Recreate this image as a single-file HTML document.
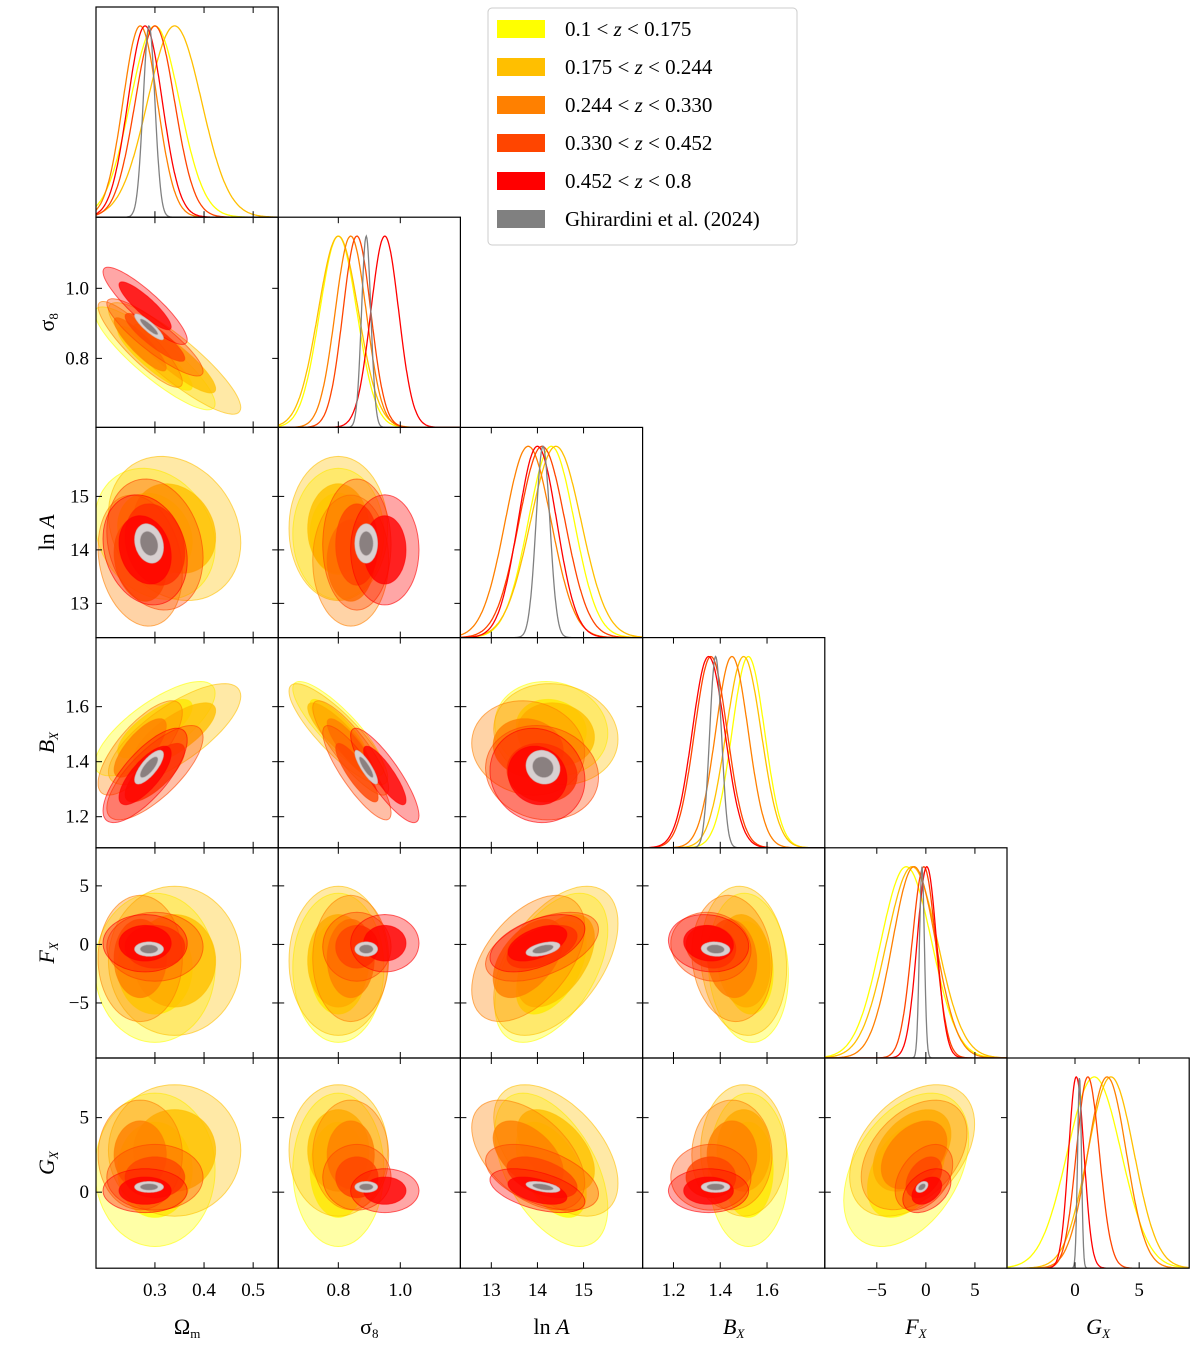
<!DOCTYPE html>
<html><head><meta charset="utf-8"><style>
html,body{margin:0;padding:0;background:#fff;}
svg text{font-family:"Liberation Serif",serif;}
</style></head><body>
<svg id="chart" width="1200" height="1349" viewBox="0 0 1200 1349" xmlns="http://www.w3.org/2000/svg"></svg>
<script>
// ---- data ----
const seriesLabels = ['0.1 < z < 0.175','0.175 < z < 0.244','0.244 < z < 0.330','0.330 < z < 0.452','0.452 < z < 0.8','Ghirardini et al. (2024)'];
const paramNames = ['Om','s8','lnA','BX','FX','GX'];
const meanOm  = [0.30, 0.34, 0.27, 0.30, 0.28, 0.288];
const sdOm    = [0.05, 0.055,0.035,0.04, 0.035,0.012];
const meanS8  = [0.80, 0.80, 0.84, 0.86, 0.95, 0.89];
const sdS8    = [0.06, 0.065,0.05, 0.045,0.045,0.015];
const meanLnA = [14.3, 14.4, 13.8, 14.1, 14.0, 14.12];
const sdLnA   = [0.5,  0.55, 0.5,  0.5,  0.42, 0.15];
const meanBX  = [1.52, 1.50, 1.45, 1.36, 1.35, 1.38];
const sdBX    = [0.07, 0.075,0.07, 0.07, 0.07, 0.025];
const meanFX  = [-2.0, -1.4, -1.2, -0.2, 0.1, -0.4];
const sdFX    = [2.6,  2.6,  2.2,  1.2,  1.0,  0.25];
const meanGX  = [1.5,  2.8,  2.5,  1.0,  0.1,  0.35];
const sdGX    = [2.1,  1.8,  1.5,  0.9,  0.6,  0.15];
const corrRows = [
 [1, -0.88, -0.2, 0.75, 0, 0],
 [-0.88, 1, 0, -0.85, 0, 0],
 [-0.2, 0, 1, -0.1, 0.5, -0.5],
 [0.75, -0.85, -0.1, 1, -0.1, 0],
 [0, 0, 0.5, -0.1, 1, 0.4],
 [0, 0, -0.5, 0, 0.4, 1]
];
const ticksOm=[0.3,0.4,0.5], ticksS8=[0.8,1.0], ticksLnA=[13,14,15], ticksBX=[1.2,1.4,1.6], ticksFX=[-5,0,5], ticksGX=[0,5];
const tickLabOm=['0.3','0.4','0.5'], tickLabS8=['0.8','1.0'], tickLabLnA=['13','14','15'], tickLabBX=['1.2','1.4','1.6'], tickLabFX=['−5','0','5'], tickLabGX=['0','5'];

// ---- styles / geometry ----
const means=[meanOm,meanS8,meanLnA,meanBX,meanFX,meanGX];
const sds=[sdOm,sdS8,sdLnA,sdBX,sdFX,sdGX];
const ticks=[ticksOm,ticksS8,ticksLnA,ticksBX,ticksFX,ticksGX];
const tickLabs=[tickLabOm,tickLabS8,tickLabLnA,tickLabBX,tickLabFX,tickLabGX];
const xr=[[0.18,0.551],[0.606,1.194],[12.33,16.28],[1.068,1.847],[-10.3,8.27],[-5.3,8.9]];
const yr=[[0.18,0.551],[0.603,1.203],[12.36,16.29],[1.087,1.851],[-9.7,8.25],[-5.1,9.0]];
const colors=['#ffff00','#ffbf00','#ff8000','#ff4500','#ff0000','#808080'];
const axTitles=['Ω<tspan font-size="13" dy="4">m</tspan>','σ<tspan font-size="13" dy="4">8</tspan>','ln <tspan font-style="italic">A</tspan>','<tspan font-style="italic">B</tspan><tspan font-size="13" dy="4" font-style="italic">X</tspan>','<tspan font-style="italic">F</tspan><tspan font-size="13" dy="4" font-style="italic">X</tspan>','<tspan font-style="italic">G</tspan><tspan font-size="13" dy="4" font-style="italic">X</tspan>'];
const L0=96, T0=7, W=182.2, H=210.2;
const svg=document.getElementById('chart');
const NS='http://www.w3.org/2000/svg';
function mk(tag,attrs,parent){const e=document.createElementNS(NS,tag);for(const k in attrs)e.setAttribute(k,attrs[k]);(parent||svg).appendChild(e);return e;}
function sx(p,v,j){const r=xr[p];return L0+j*W+(v-r[0])/(r[1]-r[0])*W;}
function sy(p,v,i){const r=yr[p];return T0+(i+1)*H-(v-r[0])/(r[1]-r[0])*H;}

let defs=mk('defs',{});
for(let i=0;i<6;i++){
 for(let j=0;j<=i;j++){
  const cp=mk('clipPath',{id:'c'+i+'_'+j},defs);
  mk('rect',{x:L0+j*W,y:T0+i*H,width:W,height:H},cp);
  const g=mk('g',{'clip-path':'url(#c'+i+'_'+j+')'});
  
  
  if(i===j){
   for(let s=0;s<6;s++){
    const m=means[j][s], sd=sds[j][s];
    let d='';
    for(let k=0;k<=300;k++){
     const v=xr[j][0]+(xr[j][1]-xr[j][0])*k/300;
     const h=Math.exp(-0.5*((v-m)/sd)**2);
     const X=sx(j,v,j), Y=T0+(i+1)*H-h*H*0.91;
     d+=(k?'L':'M')+X.toFixed(1)+' '+Y.toFixed(1);
    }
    const p=mk('path',{d:d,fill:'none',stroke:colors[s],'stroke-width':1.3},g);
    
    
   }
  } else {
   const r=corrRows[i][j];
   for(let s=0;s<6;s++){
    const mx=means[j][s], my=means[i][s], ax=sds[j][s], ay=sds[i][s];
    [2.45,1.52].forEach((kk,li)=>{
     let d='';
     for(let k=0;k<=72;k++){
      const t=k/72*2*Math.PI;
      const vx=mx+kk*ax*Math.cos(t);
      const vy=my+kk*ay*(r*Math.cos(t)+Math.sqrt(1-r*r)*Math.sin(t));
      d+=(k?'L':'M')+sx(j,vx,j).toFixed(1)+' '+sy(i,vy,i).toFixed(1);
     }
     d+='Z';
     let fill=colors[s], op=li?0.8:0.35;
     if(s===5){fill=li?'#8a8080':'#d8d0d0';op=1;}
     const p=mk('path',{d:d,fill:fill,'fill-opacity':op,stroke:s===5?'#c8c0c0':colors[s],'stroke-opacity':0.6,'stroke-width':1},g);
     
     
    });
   }
  }
  const fr=mk('rect',{x:L0+j*W,y:T0+i*H,width:W,height:H,fill:'none',stroke:'#000','stroke-width':1.2});
  
  
  ticks[j].forEach((tv,ti)=>{
   const X=sx(j,tv,j);
   mk('line',{x1:X,x2:X,y1:T0+(i+1)*H,y2:T0+(i+1)*H-6,stroke:'#000'});
   mk('line',{x1:X,x2:X,y1:T0+i*H,y2:T0+i*H+6,stroke:'#000'});
   if(i===5){const t=mk('text',{x:X,y:1296,'font-size':19,'text-anchor':'middle'});t.textContent=tickLabs[j][ti];
    }
  });
  if(i!==j){
   ticks[i].forEach((tv,ti)=>{
    const Y=sy(i,tv,i);
    mk('line',{x1:L0+j*W,x2:L0+j*W+6,y1:Y,y2:Y,stroke:'#000'});
    mk('line',{x1:L0+(j+1)*W,x2:L0+(j+1)*W-6,y1:Y,y2:Y,stroke:'#000'});
    if(j===0){const t=mk('text',{x:89,y:Y+6,'font-size':19,'text-anchor':'end'});t.textContent=tickLabs[i][ti];
     }
   });
  }
 }
}
for(let j=0;j<6;j++){
 const t=mk('text',{x:L0+j*W+W/2,y:1334,'font-size':22,'text-anchor':'middle'});
 t.innerHTML=axTitles[j];
 
 
}
for(let i=1;i<6;i++){
 const cy=T0+i*H+H/2;
 const t=mk('text',{x:0,y:0,'font-size':22,'text-anchor':'middle',transform:'translate(54,'+cy+') rotate(-90)'});
 t.innerHTML=axTitles[i];
 
 
}
const lg=mk('g',{});


mk('rect',{x:488,y:8,width:309,height:237,rx:4,fill:'#fff','fill-opacity':0.85,stroke:'#ccc'},lg);
seriesLabels.forEach((lab,s)=>{
 const y=29+s*38;
 const r=mk('rect',{x:497,y:y-9,width:48,height:18,fill:colors[s]},lg);
 
 const t=mk('text',{x:565,y:y+7,'font-size':21},lg);
 if(s<5){const p=lab.split(' < z < ');t.innerHTML=p[0]+' &lt; <tspan font-style="italic">z</tspan> &lt; '+p[1];}
 else t.textContent=lab;
 
});
</script>
</body></html>
